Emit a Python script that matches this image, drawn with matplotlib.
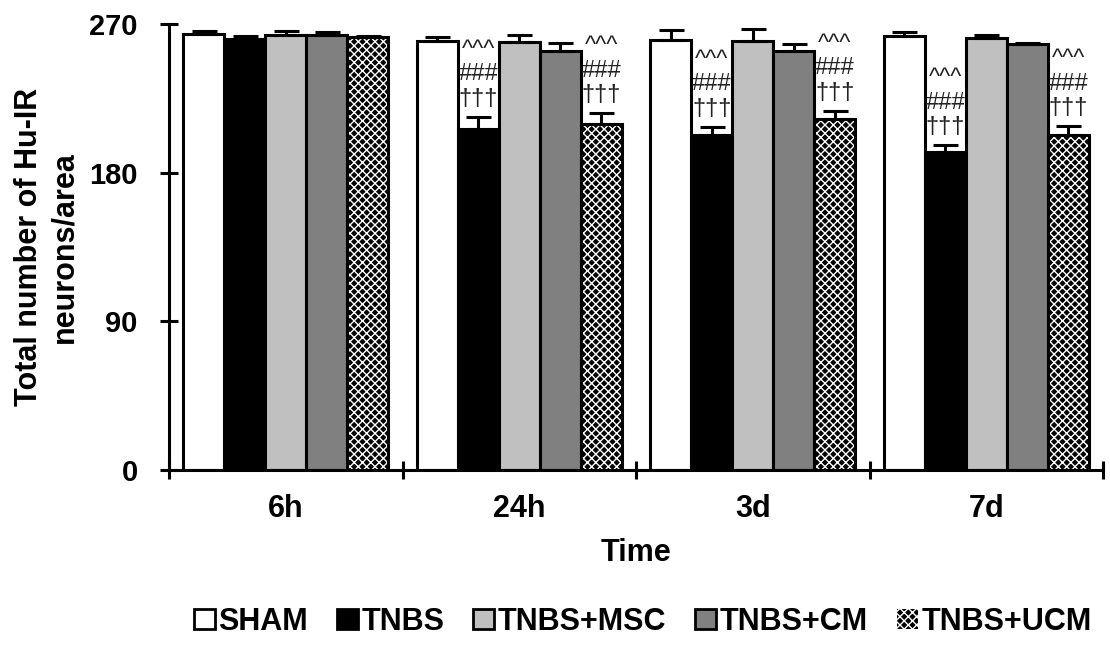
import numpy as np
import matplotlib
matplotlib.use("Agg")
import matplotlib.pyplot as plt
from matplotlib.patches import Patch

plt.rcParams["font.family"] = ["Liberation Sans", "DejaVu Sans"]
plt.rcParams["hatch.linewidth"] = 1.0

# data (neurons/area, mean and +SEM)
times = ["6h", "24h", "3d", "7d"]
groups = ["SHAM", "TNBS", "TNBS+MSC", "TNBS+CM", "TNBS+UCM"]
sham = [263.9, 260.0, 260.3, 262.9]
tnbs = [260.7, 206.3, 202.8, 192.3]
msc = [263.3, 259.3, 259.7, 261.3]
cm = [263.3, 253.8, 253.8, 257.9]
ucm = [261.9, 209.4, 212.5, 202.8]
sham_err = [2.0, 2.4, 6.0, 2.4]
tnbs_err = [2.0, 7.5, 5.0, 4.4]
msc_err = [2.6, 4.0, 7.0, 2.0]
cm_err = [1.8, 4.4, 4.0, 0.8]
ucm_err = [1.0, 6.5, 5.0, 5.4]
# significance marks drawn above TNBS and TNBS+UCM (None = no mark)
sig_tnbs = [None, "^^^\n###\n†††", "^^^\n###\n†††", "^^^\n###\n†††"]
sig_ucm = [None, "^^^\n###\n†††", "^^^\n###\n†††", "^^^\n###\n†††"]

means = [sham, tnbs, msc, cm, ucm]
errs = [sham_err, tnbs_err, msc_err, cm_err, ucm_err]
faces = ["white", "black", "#c0c0c0", "#808080", "black"]

fig = plt.figure(figsize=(11.1, 6.45), dpi=100)
ax = fig.add_axes([0.1523, 0.2713, 0.8414, 0.6915])

x = np.arange(len(times))
w = 0.1756
edge_lw = 2.2

for k, (m, e, fc) in enumerate(zip(means, errs, faces)):
    xs = x + (k - 2) * w
    if k == 4:
        # hatch layer first, then a plain outline on top
        ax.bar(xs, m, w, facecolor="black", edgecolor="white", hatch="xxxx", linewidth=0, zorder=2)
        ax.bar(xs, m, w, facecolor="none", edgecolor="black", linewidth=edge_lw, zorder=3)
    else:
        ax.bar(xs, m, w, facecolor=fc, edgecolor="black", linewidth=edge_lw, zorder=2)
    ax.errorbar(xs, m, yerr=[np.zeros(len(m)), e], fmt="none", ecolor="black",
                elinewidth=2.2, capsize=9, capthick=2.2, zorder=4)

for k, sig in [(1, sig_tnbs), (4, sig_ucm)]:
    for i, s in enumerate(sig):
        if s is None:
            continue
        ax.annotate(s, (x[i] + (k - 2) * w, means[k][i] + errs[k][i]),
                    xytext=(0, 5), textcoords="offset points", ha="center", va="bottom",
                    fontsize=17, color="#222222", linespacing=1.15)

ax.set_ylim(0, 270)
ax.set_yticks([0, 90, 180, 270])
ax.set_xlim(-0.5, 3.5)
ax.set_xticks(np.arange(-0.5, 4.0, 1.0))
ax.set_xticklabels([])
ax.set_xticks(x, minor=True)
ax.set_xticklabels(times, minor=True, fontsize=22, fontweight="bold")

ax.tick_params(axis="both", which="major", direction="inout", length=13, width=2.2)
ax.tick_params(axis="y", labelsize=21, pad=16)
ax.tick_params(axis="x", which="minor", length=0, pad=17)
for lbl in ax.get_yticklabels():
    lbl.set_fontweight("bold")

for side in ["top", "right"]:
    ax.spines[side].set_visible(False)
for side in ["left", "bottom"]:
    ax.spines[side].set_linewidth(2.2)

ax.set_xlabel("Time", fontsize=22, fontweight="bold", labelpad=10)
ax.set_ylabel("Total number of Hu-IR\nneurons/area", fontsize=22, fontweight="bold",
              labelpad=7, linespacing=1.25)

handles = [Patch(facecolor=fc, edgecolor="black", linewidth=2) for fc in faces[:4]]
handles.append(Patch(facecolor="black", edgecolor="white", hatch="xxxx", linewidth=0))
fig.legend(handles, groups, loc="center", bbox_to_anchor=(0.579, 1 - 622 / 645), ncol=5,
           frameon=False, prop={"size": 22, "weight": "bold"}, handlelength=0.68,
           handleheight=0.65, handletextpad=0.12, columnspacing=0.95)

fig.savefig("out.png", dpi=100)
